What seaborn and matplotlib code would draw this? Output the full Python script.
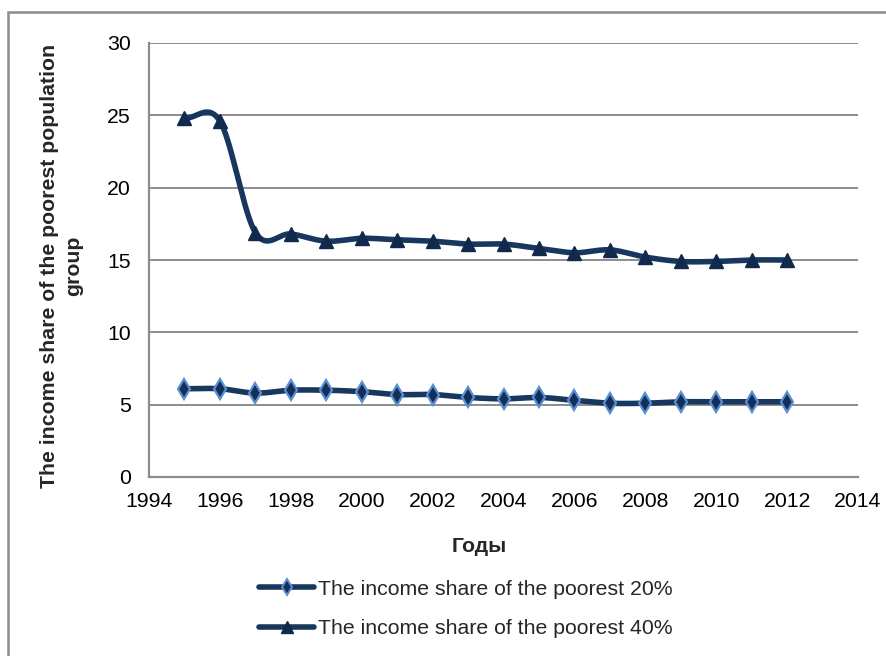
import numpy as np
import pandas as pd
import matplotlib
matplotlib.use("Agg")
import matplotlib.pyplot as plt
from matplotlib.lines import Line2D
from matplotlib.patches import Rectangle
import seaborn as sns

years = [1995, 1996, 1997, 1998, 1999, 2000, 2001, 2002, 2003,
         2004, 2005, 2006, 2007, 2008, 2009, 2010, 2011, 2012]
share_20 = [6.1, 6.1, 5.8, 6.0, 6.0, 5.9, 5.7, 5.7, 5.5,
            5.4, 5.5, 5.3, 5.1, 5.1, 5.2, 5.2, 5.2, 5.2]
share_40 = [24.8, 24.6, 16.9, 16.8, 16.3, 16.5, 16.4, 16.3, 16.1,
            16.1, 15.8, 15.5, 15.7, 15.2, 14.9, 14.9, 15.0, 15.0]
label_20 = "The income share of the poorest 20%"
label_40 = "The income share of the poorest 40%"
x_ticks = list(range(1994, 2015, 2))
y_ticks = list(range(0, 31, 5))

LINE = "#17375E"
TRI = "#10294D"
DIA_FACE = "#13305A"
DIA_EDGE = "#5B8FCF"
GRID = "#8C8C8C"
FS = 15.3


def smooth(x, y, n=30):
    """Catmull-Rom style cubic Hermite through the points."""
    x = np.asarray(x, float)
    y = np.asarray(y, float)
    m = np.empty_like(y)
    m[1:-1] = (y[2:] - y[:-2]) / (x[2:] - x[:-2])
    m[0] = (y[1] - y[0]) / (x[1] - x[0])
    m[-1] = (y[-1] - y[-2]) / (x[-1] - x[-2])
    xs, ys = [], []
    for i in range(len(x) - 1):
        h = x[i + 1] - x[i]
        t = np.linspace(0, 1, n, endpoint=(i == len(x) - 2))
        h00 = 2 * t**3 - 3 * t**2 + 1
        h10 = t**3 - 2 * t**2 + t
        h01 = -2 * t**3 + 3 * t**2
        h11 = t**3 - t**2
        xs.append(x[i] + t * h)
        ys.append(h00 * y[i] + h10 * h * m[i] + h01 * y[i + 1] + h11 * h * m[i + 1])
    return np.concatenate(xs), np.concatenate(ys)


sns.set_theme(style="white")
plt.rcParams["font.family"] = ["Liberation Sans", "DejaVu Sans"]

W, H = 887, 656
fig = plt.figure(figsize=(W / 100, H / 100), dpi=100)
ax = fig.add_axes([149 / W, 1 - 477 / H, (858 - 149) / W, (477 - 43) / H])

pts = pd.DataFrame({"year": years, "s20": share_20, "s40": share_40})
for col in ["s20", "s40"]:
    sx, sy = smooth(pts["year"], pts[col])
    curve = pd.DataFrame({"year": sx, "value": sy})
    sns.lineplot(data=curve, x="year", y="value", ax=ax, color=LINE,
                 lw=4.0, sort=False, estimator=None, zorder=3,
                 solid_capstyle="round")

ax.plot(pts["year"], pts["s20"], ls="none", marker="d", ms=10,
        mfc=DIA_FACE, mec=DIA_EDGE, mew=1.6, zorder=4)
ax.plot(pts["year"], pts["s40"], ls="none", marker="^", ms=10.5,
        mfc=TRI, mec=TRI, mew=1, zorder=4)

ax.set_xlim(1994, 2014)
ax.set_ylim(0, 30)
ax.set_xticks(x_ticks)
ax.set_yticks(y_ticks)
ax.set_xlabel("")
ax.set_ylabel("")
ax.yaxis.grid(True, color=GRID, lw=1.4)
ax.xaxis.grid(False)
ax.set_axisbelow(True)
for s in ["top", "right"]:
    ax.spines[s].set_visible(False)
ax.spines["left"].set_color(GRID)
ax.spines["left"].set_linewidth(1.6)
ax.spines["bottom"].set_color(GRID)
ax.spines["bottom"].set_linewidth(1.6)
ax.tick_params(axis="both", length=0, labelsize=FS, colors="black")
ax.tick_params(axis="y", pad=13)
ax.tick_params(axis="x", pad=11)

fig.text(479 / W, 1 - 547 / H, "Годы", ha="center", va="center",
         fontsize=FS, fontweight="bold")
fig.text(62 / W, 1 - 266 / H,
         "The income share of the poorest population\ngroup",
         rotation=90, ha="center", va="center", fontsize=FS,
         fontweight="bold", linespacing=1.35, multialignment="center")

handles = [
    Line2D([], [], color=LINE, lw=4.0, marker="d", ms=8,
           mfc=DIA_FACE, mec=DIA_EDGE, mew=1.4),
    Line2D([], [], color=LINE, lw=4.0, marker="^", ms=9,
           mfc=TRI, mec=TRI),
]
fig.legend(handles, [label_20, label_40], loc="center",
           bbox_to_anchor=(466 / W, 1 - 609 / H), frameon=False,
           fontsize=FS, handlelength=2.6, handletextpad=0.2,
           labelspacing=0.95)

fig.add_artist(Rectangle((8 / W, -0.1), 1.2, 1.1 - 12 / H,
                         transform=fig.transFigure, fill=False,
                         ec="#8C8C8C", lw=1.8))

fig.savefig("out.png", dpi=100, facecolor="white")
